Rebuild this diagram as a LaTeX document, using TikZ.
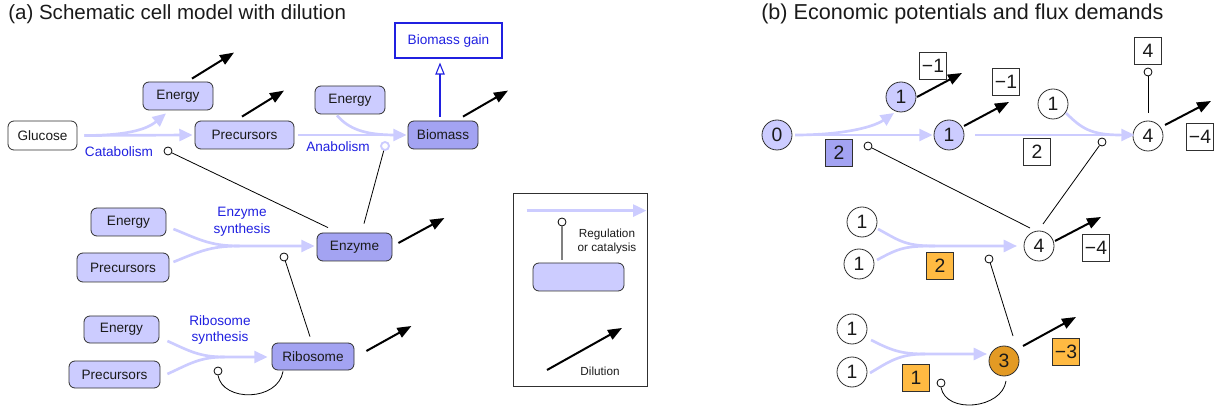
\documentclass[tikz,border=0pt]{standalone}
\usepackage{fontspec}
\setmainfont{Liberation Sans}
\usetikzlibrary{arrows.meta,calc}
\definecolor{fluxc}{HTML}{CCCCFF}
\definecolor{metc}{HTML}{CCCCFF}
\definecolor{protc}{HTML}{A3A3F2}
\definecolor{labc}{HTML}{2020E0}
\definecolor{orl}{HTML}{FFBA42}
\definecolor{ord}{HTML}{E39A24}
\definecolor{edge}{HTML}{303030}
\definecolor{ink}{HTML}{1A1A1A}
\begin{document}
\begin{tikzpicture}[x=0.75pt,y=-0.75pt,
  txt/.style={font=\fontsize{10.2}{12}\selectfont, text=ink},
  box/.style={txt, draw=edge, line width=0.6pt, rounded corners=4.5pt, inner sep=0pt, minimum height=21pt},
  met/.style={box, fill=metc},
  prot/.style={box, fill=protc},
  lab/.style={font=\fontsize{10.2}{12.5}\selectfont, text=labc, align=center, inner sep=0pt},
  flux/.style={draw=fluxc, line width=2pt, -{Triangle[length=10pt,width=9pt]}},
  fluxin/.style={draw=fluxc, line width=2pt},
  dil/.style={draw=black, line width=1.5pt, -{Triangle[length=10.5pt,width=8pt]}},
  reg/.style={draw=black, line width=0.6pt},
  knob/.style={circle, draw=black, fill=white, line width=0.6pt, inner sep=0pt, minimum size=6pt},
  pot/.style={circle, draw=edge, line width=0.6pt, inner sep=0pt, minimum size=22.5pt, font=\fontsize{14.5}{16}\selectfont, text=ink},
  val/.style={draw=edge, line width=0.6pt, inner sep=0pt, minimum size=20.25pt, font=\fontsize{14.5}{16}\selectfont, text=ink},
  title/.style={text=ink, inner sep=0pt},
  small/.style={font=\fontsize{8.8}{10.5}\selectfont, text=ink, align=center, inner sep=0pt}
]
\useasboundingbox (0,0) rectangle (1223,409);

% ---------- titles ----------
\node[title, font=\fontsize{15.4}{18}\selectfont, anchor=base west] (ta) at (8,19.5) {(a) Schematic cell model with dilution};
\node[title, font=\fontsize{16.2}{18}\selectfont, anchor=base west] (tb) at (761,19.5) {(b) Economic potentials and flux demands};

% ---------- (a) cell model ----------
\node[box, fill=white, minimum width=51.75pt, minimum height=21.75pt] (glu) at (42.5,135.5) {Glucose};
\node[met, minimum width=52.5pt] (en1) at (178,96) {Energy};
\node[met, minimum width=74.25pt] (pr1) at (244.5,135) {Precursors};
\node[met, minimum width=52.5pt] (en2) at (350,100) {Energy};
\node[prot, minimum width=52.5pt] (bio) at (443,135) {Biomass};
\node[draw=labc, line width=0.8pt, text=labc, font=\fontsize{10.2}{12}\selectfont,
      minimum width=80.25pt, minimum height=26.25pt, inner sep=0pt] (gain) at (448.5,40.5) {Biomass gain};

\node[met, minimum width=56.25pt] (en3) at (128.5,222) {Energy};
\node[met, minimum width=69pt, minimum height=21.75pt] (pr3) at (123,267.5) {Precursors};
\node[prot, minimum width=56.25pt] (enz) at (354.5,247) {Enzyme};

\node[met, minimum width=56.25pt, minimum height=20.25pt] (en4) at (121.5,329.5) {Energy};
\node[met, minimum width=68.25pt, minimum height=20.25pt] (pr4) at (114.5,374.5) {Precursors};
\node[prot, minimum width=61.5pt, minimum height=20.25pt] (rib) at (313,356.5) {Ribosome};

% reaction labels
\node[lab] (lcat) at (119,152) {Catabolism};
\node[lab] (lana) at (338,147) {Anabolism};
\node[lab] (lenz) at (242,222) {Enzyme\\synthesis};
\node[lab] (lrib) at (220,330) {Ribosome\\synthesis};

% catabolism
\draw[flux] ($(glu.east)+(7,0)$) -- ($(pr1.west)+(-2,0)$);
\draw[flux] ($(glu.east)+(7,0)$) .. controls ($(glu.east)+(53,0)$) and ($(en1.south)+(-30,18)$) .. ($(en1.south)+(-12,3)$);
% anabolism
\draw[fluxin] ($(en2.south)+(-13,1)$) .. controls +(12,14) and +(-30,0) .. ($(bio.west)+(-12,0)$);
\draw[flux] ($(pr1.east)+(4,0)$) -- ($(bio.west)+(-1,0)$);
% enzyme synthesis
\coordinate (menz) at ($(enz.west)+(-77,-1)$);
\draw[fluxin] ($(en3.east)+(7,7)$) .. controls +(25,10) and +(-30,0) .. (menz);
\draw[flux] ($(pr3.east)+(4,-5.5)$) .. controls +(25,-10) and +(-30,0) .. (menz) -- ($(enz.west)+(-2,-1)$);
% ribosome synthesis
\coordinate (mrib) at ($(rib.west)+(-47,0.5)$);
\draw[fluxin] ($(en4.east)+(8,11.5)$) .. controls +(22,10) and +(-25,0) .. (mrib);
\draw[flux] ($(pr4.east)+(7,-0.5)$) .. controls +(22,-10) and +(-25,0) .. (mrib) -- ($(rib.west)+(-4,0.5)$);

% biomass gain
\draw[draw=labc, line width=0.8pt, -{Triangle[open,length=9pt,width=7pt]}] ($(bio.north)+(-3,-4)$) -- ($(gain.south)+(-8.5,4)$);

% regulation
\node[knob] (k1) at (168,151) {};
\node[knob, draw=fluxc, line width=1.4pt] (k2) at (385,146) {};
\node[knob] (k3) at (284,257) {};
\node[knob] (k4) at (218,371) {};
\draw[reg] (k1) -- ($(enz.north)+(-26.5,-5)$);
\draw[reg] (k2) -- ($(enz.north)+(9.5,-9)$);
\draw[reg] (k3) -- ($(rib.north)+(-3,-6)$);
\draw[reg] (k4.south) .. controls +(5,27) and +(-5,30) .. ($(rib.south)+(-30,1)$);

% dilution
\draw[dil] ($(en1.north)+(14,-3)$) -- ++(42,-26);
\draw[dil] ($(pr1.north)+(-2.5,-4)$) -- ++(42,-26);
\draw[dil] ($(bio.north)+(20,-4)$) -- ++(45,-26);
\draw[dil] ($(enz.east)+(6,-4)$) -- ++(46,-25);
\draw[dil] ($(rib.east)+(12,-5.5)$) -- ++(45,-25);

% legend
\node[draw=edge, line width=0.6pt, minimum width=100.5pt, minimum height=144.75pt, inner sep=0pt] (legend) at (580,289.5) {};
\node[met, minimum width=68.25pt] (legbox) at (578.5,277) {};
\coordinate (lf0) at ($(legend.north west)+(14,18)$);
\draw[flux] (lf0) -- ($(legend.north east)+(-1,18)$);
\node[knob] (lk) at (562,222) {};
\draw[draw=gray, line width=1pt] (lk) -- ($(legbox.north)+(-16.5,-3)$);
\node[small] (lreg) at (607,241.5) {Regulation\\ or catalysis};
\coordinate (ld0) at (547,370);
\draw[dil] (ld0) -- ++(75,-42);
\node[small] (ldil) at (600,371) {Dilution};

% ---------- (b) potentials and demands ----------
\node[pot, fill=metc] (c0) at (777,135) {0};
\node[pot, fill=metc] (c1a) at (901,97) {1};
\node[pot, fill=metc] (c1b) at (949,135) {1};
\node[pot, fill=white] (c1c) at (1053,104) {1};
\node[pot, fill=white] (c4) at (1148,136) {4};

\node[pot, fill=white] (d1) at (862,222) {1};
\node[pot, fill=white] (d2) at (859,264) {1};
\node[pot, fill=white] (e4) at (1039,246) {4};

\node[pot, fill=white] (f1) at (852,329) {1};
\node[pot, fill=white] (f2) at (852,372) {1};
\node[pot, fill=ord] (g3) at (1004,361) {3};

\node[val, fill=white] (v1) at (933,66) {−1};
\node[val, fill=white] (v2) at (1006,82) {−1};
\node[val, fill=white] (v3) at (1148,51) {4};
\node[val, fill=white] (v4) at (1200,137) {−4};
\node[val, fill=protc] (v5) at (839,153) {2};
\node[val, fill=white] (v6) at (1037,152) {2};
\node[val, fill=white] (v7) at (1096,248) {−4};
\node[val, fill=orl] (v8) at (940,266) {2};
\node[val, fill=orl] (v9) at (916,378) {1};
\node[val, fill=orl] (v10) at (1066,352) {−3};

% fluxes
\draw[flux] ($(c0)+(18,0)$) -- ($(c1b.west)+(-1,0)$);
\draw[flux] ($(c0)+(18,0)$) .. controls +(45,0) and +(-22,15) .. ($(c1a)+(-7,16)$);
\draw[fluxin] ($(c1c)+(13,9)$) .. controls +(15,15) and +(-30,0) .. ($(c4.west)+(-12,-1)$);
\draw[flux] ($(c1b)+(26,0)$) -- ($(c4.west)+(2,-1)$);

\coordinate (me4) at ($(e4)+(-104,0)$);
\draw[fluxin] ($(d1)+(16,7)$) .. controls +(22,12) and +(-30,0) .. (me4);
\draw[flux] ($(d2)+(18,-4)$) .. controls +(22,-12) and +(-30,0) .. (me4) -- ($(e4)+(-22,0)$);

\coordinate (mg3) at ($(g3)+(-79,-7)$);
\draw[fluxin] ($(f1)+(19,11)$) .. controls +(20,10) and +(-25,0) .. (mg3);
\draw[flux] ($(f2)+(18,1)$) .. controls +(20,-12) and +(-25,0) .. (mg3) -- ($(g3)+(-17,-7)$);

% regulation
\node[knob] (s1) at (868,146) {};
\node[knob] (s2) at (1102,142) {};
\node[knob] (s3) at (1148,72) {};
\node[knob] (s4) at (989,259) {};
\node[knob] (s5) at (941,383) {};
\draw[reg] (s1) -- ($(e4)+(-9,-18)$);
\draw[reg] (s2) -- ($(e4)+(4,-22)$);
\draw[reg] (s3) -- ($(c4)+(0,-23)$);
\draw[reg] (s4) -- ($(g3)+(9,-25)$);
\draw[reg] (s5.south) .. controls +(5,27) and +(-4,28) .. ($(g3)+(2,20)$);

% dilution
\draw[dil] ($(c1a)+(16,0)$) -- ++(45,-24);
\draw[dil] ($(c1b)+(15,-9)$) -- ++(45,-24);
\draw[dil] ($(c4)+(17,-11)$) -- ++(46,-24);
\draw[dil] ($(e4)+(16,-5)$) -- ++(46,-24);
\draw[dil] ($(g3)+(19,-15)$) -- ++(53,-29);
\end{tikzpicture}
\end{document}
